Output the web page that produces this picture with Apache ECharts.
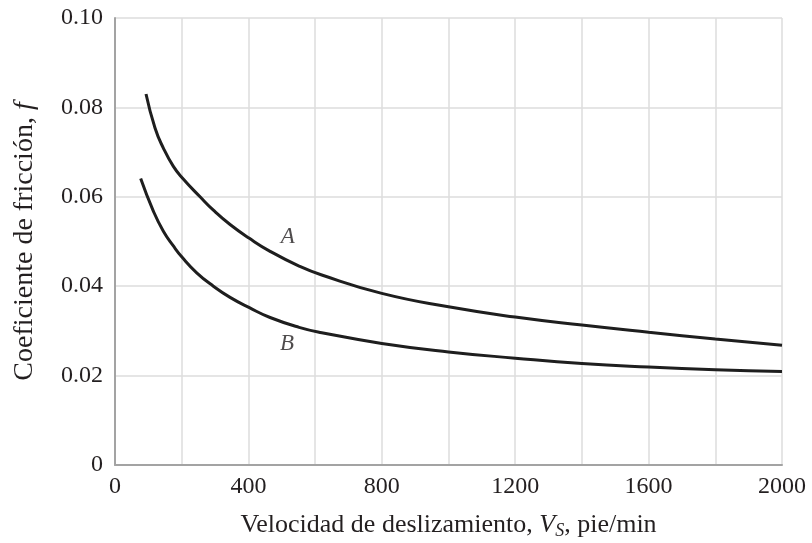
<!DOCTYPE html>
<html>
<head>
<meta charset="utf-8">
<script src="https://cdn.jsdelivr.net/npm/echarts@6/dist/echarts.min.js"></script>
<style>html,body{margin:0;padding:0;background:#fff}#c{width:812px;height:543px}</style>
</head>
<body>
<div id="c"></div>
<script>
// Curve A: sliding velocity (ft/min) vs friction coefficient
const velA = [93, 120, 145, 175, 202, 255, 295, 345, 403, 465, 552, 620, 800, 1000, 1200, 1400, 1600, 1800, 2000];
const fricA = [0.0830, 0.0754, 0.0709, 0.0668, 0.0642, 0.0600, 0.0570, 0.0538, 0.0507, 0.0478, 0.0445, 0.0425, 0.0384, 0.0354, 0.0331, 0.0313, 0.0297, 0.0282, 0.0268];
// Curve B
const velB = [77, 115, 145, 175, 202, 245, 295, 345, 403, 465, 552, 620, 800, 1000, 1200, 1400, 1600, 1800, 2000];
const fricB = [0.0641, 0.0568, 0.0523, 0.0490, 0.0464, 0.0430, 0.0400, 0.0375, 0.0352, 0.0330, 0.0308, 0.0296, 0.0272, 0.0253, 0.0239, 0.0227, 0.0219, 0.0213, 0.0209];
// Curve labels
const labelNames = ['A', 'B'];
const labelVel = [518, 516];
const labelFric = [0.0510, 0.0270];
// Ticks
const xTickLabels = ['0', '400', '800', '1200', '1600', '2000'];
const yTickLabels = ['0', '0.02', '0.04', '0.06', '0.08', '0.10'];

const serif = '"Liberation Serif", "DejaVu Serif", serif';
const textColor = '#231f20';

const chart = echarts.init(document.getElementById('c'), null, {renderer: 'canvas'});
const pairs = (xs, ys) => xs.map((x, i) => [x, ys[i]]);

chart.setOption({
  animation: false,
  backgroundColor: '#fff',
  grid: {left: 115, right: 30, top: 18, bottom: 78, containLabel: false, outerBoundsMode: 'none'},
  xAxis: {
    type: 'value', min: 0, max: 2000, interval: 200,
    axisLine: {show: true, onZero: false, lineStyle: {color: '#a3a3a3', width: 2}},
    axisTick: {show: false},
    splitLine: {show: true, lineStyle: {color: '#dcdcdc', width: 1.5}},
    axisLabel: {
      margin: 10, fontFamily: serif, fontSize: 24, color: textColor,
      formatter: v => { const s = String(v); return xTickLabels.includes(s) ? s : ''; }
    },
    name: '{a|Velocidad de deslizamiento, }{i|V}{s|S}{a|, pie/min}',
    nameLocation: 'middle', nameGap: 45,
    nameTextStyle: {
      fontFamily: serif, fontSize: 26, color: textColor,
      rich: {
        a: {fontFamily: serif, fontSize: 26, color: textColor},
        i: {fontFamily: serif, fontSize: 26, fontStyle: 'italic', color: textColor},
        s: {fontFamily: serif, fontSize: 18, fontStyle: 'italic', color: textColor, padding: [12, 0, 0, 0]}
      }
    }
  },
  yAxis: {
    type: 'value', min: 0, max: 0.1, interval: 0.02,
    axisLine: {show: true, lineStyle: {color: '#a3a3a3', width: 2}},
    axisTick: {show: false},
    splitLine: {show: true, lineStyle: {color: '#dcdcdc', width: 1.5}},
    axisLabel: {
      margin: 12, fontFamily: serif, fontSize: 24, color: textColor,
      formatter: v => yTickLabels[Math.round(v / 0.02)]
    },
    name: '{a|Coeficiente de fricción, }{i|f}',
    nameLocation: 'middle', nameRotate: 90, nameGap: 76,
    nameTextStyle: {
      fontFamily: serif, fontSize: 28, color: textColor,
      rich: {
        a: {fontFamily: serif, fontSize: 28, color: textColor},
        i: {fontFamily: serif, fontSize: 28, fontStyle: 'italic', color: textColor}
      }
    }
  },
  series: [
    {
      name: 'A', type: 'line', data: pairs(velA, fricA), smooth: 0.5,
      showSymbol: false, lineStyle: {color: '#1e1e1e', width: 3}
    },
    {
      name: 'B', type: 'line', data: pairs(velB, fricB), smooth: 0.5,
      showSymbol: false, lineStyle: {color: '#1e1e1e', width: 3}
    },
    {
      type: 'scatter', symbolSize: 0, silent: true,
      data: labelNames.map((n, i) => ({name: n, value: [labelVel[i], labelFric[i]]})),
      label: {
        show: true, position: 'inside', formatter: p => p.name,
        fontFamily: serif, fontSize: 23, fontStyle: 'italic', color: textColor
      }
    }
  ]
});
</script>
</body>
</html>
